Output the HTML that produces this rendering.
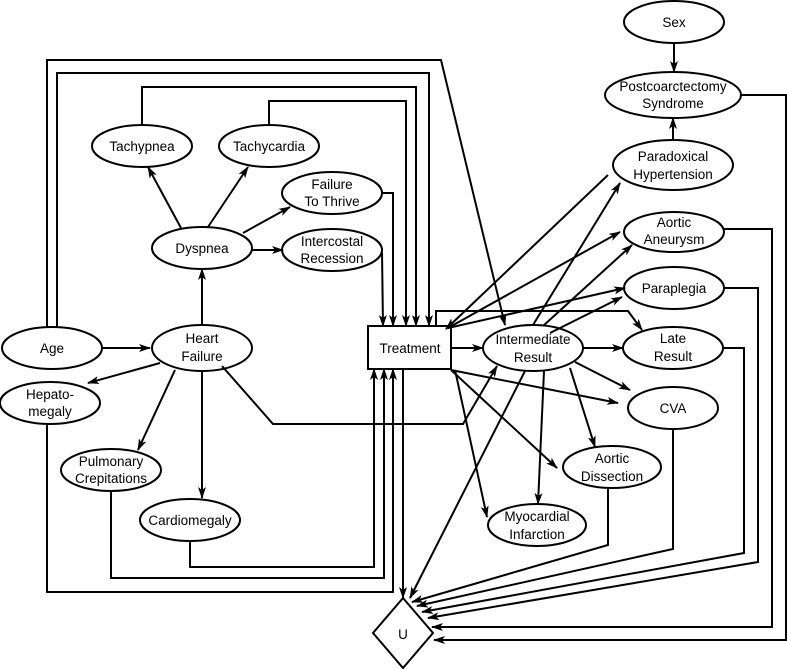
<!DOCTYPE html>
<html><head><meta charset="utf-8"><style>
html,body{margin:0;padding:0;background:#fff}
svg{display:block}
text{font-family:"Liberation Sans",Arial,sans-serif;font-size:13.5px;fill:#000;text-anchor:middle}
</style></head><body>
<svg width="787" height="669" viewBox="0 0 787 669">
<defs><marker id="a" markerWidth="12" markerHeight="8" refX="11" refY="4" orient="auto" markerUnits="userSpaceOnUse"><path d="M0,0 L12,4 L0,8 L3,4 z" fill="#000"/></marker></defs>
<g fill="none" stroke="#000" stroke-width="2">
<!-- nodes -->
<ellipse cx="674" cy="22" rx="50" ry="21"/>
<ellipse cx="673" cy="95" rx="68" ry="23"/>
<ellipse cx="673" cy="165" rx="60" ry="25"/>
<ellipse cx="674" cy="232" rx="50" ry="20"/>
<ellipse cx="674" cy="288" rx="50" ry="21"/>
<ellipse cx="673" cy="348" rx="50" ry="21"/>
<ellipse cx="673" cy="408" rx="45" ry="21"/>
<ellipse cx="612" cy="467" rx="49" ry="21"/>
<ellipse cx="537" cy="525" rx="49" ry="21"/>
<ellipse cx="533" cy="348" rx="50" ry="23"/>
<rect x="368" y="326" width="83" height="43"/>
<path d="M403,598 L433,633 L403,668 L373,633 Z"/>
<ellipse cx="52" cy="348" rx="50" ry="21"/>
<ellipse cx="202" cy="348" rx="50" ry="23"/>
<ellipse cx="202" cy="248" rx="50" ry="21"/>
<ellipse cx="142" cy="146" rx="50" ry="21"/>
<ellipse cx="269" cy="146" rx="50" ry="21"/>
<ellipse cx="332" cy="193" rx="50" ry="21"/>
<ellipse cx="332" cy="250" rx="50" ry="21"/>
<ellipse cx="50" cy="403" rx="50" ry="21"/>
<ellipse cx="111" cy="470" rx="50" ry="21"/>
<ellipse cx="190" cy="520" rx="50" ry="21"/>
</g>
<g fill="none" stroke="#000" stroke-width="2" marker-end="url(#a)">
<path d="M674,43 L674,72"/>
<path d="M673,140 L673,118"/>
<path d="M102,348 L150,348"/>
<path d="M202,325 L202,269"/>
<path d="M181,228 L148,167"/>
<path d="M208,227 L248,167"/>
<path d="M243,233 L290,207"/>
<path d="M252,250 L283,250"/>
<path d="M160,363 L88,383"/>
<path d="M175,370 L138,450"/>
<path d="M202,371 L202,498"/>
<path d="M47,327 L47,60 L441,60 L505,325"/>
<path d="M57,327 L57,73 L429,73 L429,326"/>
<path d="M142,125 L142,87 L416,87 L416,326"/>
<path d="M269,125 L269,101 L406,101 L406,326"/>
<path d="M382,193 L393,193 L393,326"/>
<path d="M382,252 L383,326"/>
<path d="M190,541 L190,567 L374,567 L374,369"/>
<path d="M111,491 L111,578 L384,578 L384,369"/>
<path d="M47,424 L47,592 L393,592 L393,369"/>
<path d="M403,369 L403,598"/>
<path d="M222,366 L273,424 L463,424 L497,366"/>
<path d="M436,326 L436,311 L628,311 L642,330"/>
<path d="M608,175 L446,329"/>
<path d="M448,328 L620,232"/>
<path d="M448,328 L625,288"/>
<path d="M451,348 L483,348"/>
<path d="M533,325 L620,183"/>
<path d="M543,326 L632,245"/>
<path d="M550,333 L622,297"/>
<path d="M583,348 L623,348"/>
<path d="M575,362 L630,390"/>
<path d="M570,368 L595,447"/>
<path d="M544,371 L538,504"/>
<path d="M525,371 L410,598"/>
<path d="M451,370 L618,403"/>
<path d="M451,370 L557,468"/>
<path d="M455,370 L487,517"/>
<path d="M741,95 L786,95 L786,640 L434,640"/>
<path d="M724,229 L772,229 L772,627 L432,627"/>
<path d="M724,288 L758,288 L758,562 L428,618"/>
<path d="M723,348 L744,348 L744,553 L422,612"/>
<path d="M673,429 L673,549 L417,606"/>
<path d="M608,488 L608,545 L412,602"/>
</g>
<text x="674" y="27">Sex</text>
<text x="673" y="91">Postcoarctectomy</text><text x="673" y="108">Syndrome</text>
<text x="673" y="161">Paradoxical</text><text x="673" y="179">Hypertension</text>
<text x="674" y="227">Aortic</text><text x="674" y="244">Aneurysm</text>
<text x="674" y="293">Paraplegia</text>
<text x="673" y="343">Late</text><text x="673" y="361">Result</text>
<text x="673" y="413">CVA</text>
<text x="612" y="463">Aortic</text><text x="612" y="481">Dissection</text>
<text x="537" y="521">Myocardial</text><text x="537" y="539">Infarction</text>
<text x="533" y="344">Intermediate</text><text x="533" y="362">Result</text>
<text x="410" y="353">Treatment</text>
<text x="403" y="639">U</text>
<text x="52" y="353">Age</text>
<text x="202" y="343">Heart</text><text x="202" y="361">Failure</text>
<text x="202" y="253">Dyspnea</text>
<text x="142" y="151">Tachypnea</text>
<text x="269" y="151">Tachycardia</text>
<text x="332" y="189">Failure</text><text x="332" y="206">To Thrive</text>
<text x="332" y="246">Intercostal</text><text x="332" y="263">Recession</text>
<text x="50" y="399">Hepato-</text><text x="50" y="416">megaly</text>
<text x="111" y="466">Pulmonary</text><text x="111" y="483">Crepitations</text>
<text x="190" y="525">Cardiomegaly</text>
</svg>
</body></html>
